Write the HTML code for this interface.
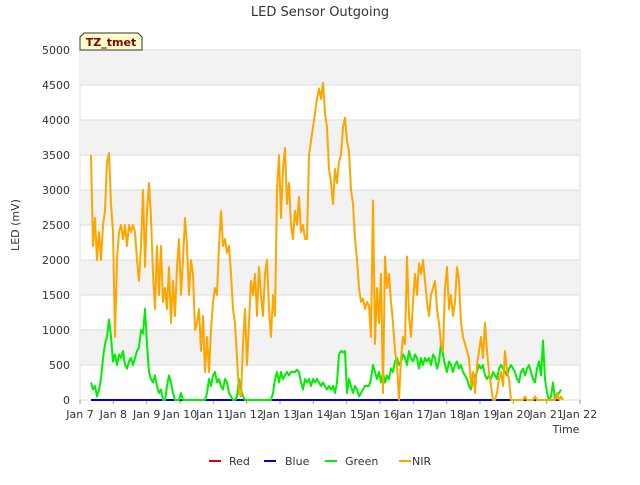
<!DOCTYPE html>
<html><head><meta charset="utf-8"><style>
body{margin:0;background:#fff;font-family:"Liberation Sans","DejaVu Sans",sans-serif;}
svg text{font-family:"DejaVu Sans","Liberation Sans",sans-serif;}
</style></head><body>
<svg id="chart" width="640" height="480" xmlns="http://www.w3.org/2000/svg">
<rect width="640" height="480" fill="#fff"/>
<text x="320" y="16" text-anchor="middle" font-size="13" fill="#333">LED Sensor Outgoing</text>
<text transform="translate(19,225) rotate(-90)" text-anchor="middle" font-size="11" fill="#333">LED (mV)</text>
<text x="566" y="433" text-anchor="middle" font-size="11" fill="#333">Time</text>
<g id="bands"></g><g id="grid"></g><g id="ticks"></g><g id="series"></g>
<g>
<path d="M80,50 L80,37 L84,33 L138,33 L142,37 L142,50 Z" fill="#ffffcc" stroke="#333" stroke-width="1"/>
<text x="111" y="46" text-anchor="middle" font-size="11" font-weight="bold" fill="#8b0000">TZ_tmet</text>
</g>
<g>
<g><line x1="209" y1="461" x2="221" y2="461" stroke="#dd0000" stroke-width="2"/><text x="229" y="465" font-size="11" fill="#333">Red</text></g>
<g><line x1="264" y1="461" x2="276" y2="461" stroke="#0000dd" stroke-width="2"/><text x="285" y="465" font-size="11" fill="#333">Blue</text></g>
<g><line x1="325" y1="461" x2="337" y2="461" stroke="#00ee00" stroke-width="2"/><text x="345" y="465" font-size="11" fill="#333">Green</text></g>
<g><line x1="399" y1="461" x2="411" y2="461" stroke="#ffa500" stroke-width="2"/><text x="412" y="465" font-size="11" fill="#333">NIR</text></g>
</g>
</svg>
<script>
const xTickLabels=["Jan 7","Jan 8","Jan 9","Jan 10","Jan 11","Jan 12","Jan 13","Jan 14","Jan 15","Jan 16","Jan 17","Jan 18","Jan 19","Jan 20","Jan 21","Jan 22"];
const yTicks=[0,500,1000,1500,2000,2500,3000,3500,4000,4500,5000];
const startDay=7.33;
const sampleStep=0.06;
const nirValues=[3500,2200,2600,2000,2400,2000,2500,2700,3400,3530,2800,2400,900,2000,2400,2500,2300,2500,2200,2500,2400,2500,2400,2000,1700,2200,3000,1900,2700,3100,2600,1800,1300,2200,1500,2200,1400,1600,1300,1900,1100,1700,1200,1900,2300,1500,2000,2600,2200,1500,2000,1800,1000,1100,1300,700,1200,400,900,400,1000,1400,1600,1500,2200,2700,2200,2300,2100,2200,1800,1300,1100,600,100,50,800,1300,500,1100,1700,1500,1800,1200,1900,1500,1200,1800,2000,1300,900,1500,1200,3000,3500,2600,3300,3600,2800,3100,2500,2300,2700,2500,2900,2400,2500,2300,2300,3500,3700,3900,4100,4300,4450,4300,4530,4100,3900,3300,3100,2800,3300,3100,3400,3500,3900,4030,3700,3550,3000,2800,2300,2000,1600,1400,1450,1300,1400,1350,900,2850,800,1600,1100,1800,100,2050,1600,1800,1400,1100,700,500,0,600,900,800,2050,1200,900,1400,1800,1500,1950,1800,2000,1700,1400,1200,1500,1600,1700,1300,1100,800,700,1600,1900,1300,1500,1200,1400,1900,1700,1100,900,800,700,600,200,400,100,500,700,900,600,1100,700,400,200,0,0,100,300,400,200,700,400,300,0,0,0,0,0,0,0,50,0,0,0,0,50,0,0,0,0,0,0,0,0,0,0,100,0,50,0];
const greenValues=[250,150,200,50,150,300,600,800,900,1150,900,550,650,500,650,600,700,500,450,550,600,500,600,700,750,1000,950,1300,800,400,300,250,350,200,100,150,0,0,200,350,250,100,0,0,0,100,0,0,0,0,0,0,0,0,0,0,0,0,100,300,200,350,400,250,300,200,150,300,250,100,50,0,0,50,300,150,50,0,0,0,0,0,0,0,0,0,0,0,0,0,0,100,300,400,250,400,300,350,400,350,400,400,400,430,400,250,150,300,250,300,200,300,250,300,250,200,250,200,150,200,150,200,100,250,650,700,680,700,100,300,200,100,200,150,50,100,150,200,200,200,300,500,400,300,400,250,400,250,350,300,450,400,550,600,500,550,650,600,500,700,600,550,650,600,450,600,500,600,550,600,500,650,600,450,550,800,650,500,400,550,500,400,500,550,450,500,400,350,300,200,150,300,350,400,500,450,500,350,300,350,300,400,350,300,450,500,450,400,350,450,500,450,400,300,250,400,450,350,450,500,400,300,250,450,550,350,850,300,100,0,50,250,0,50,100,150];
const redValues=[0,0];
const blueValues=[0,0];
const redBlueDays=[7.33,21.4];

const X0=80,X1=580,Y0=400,Y1=50,D0=7,D1=22,VMAX=5000;
const xs=d=>X0+(d-D0)*(X1-X0)/(D1-D0);
const ys=v=>Y0-v*(Y0-Y1)/VMAX;
const NS="http://www.w3.org/2000/svg";
function mk(tag,attrs,parent){const e=document.createElementNS(NS,tag);for(const k in attrs)e.setAttribute(k,attrs[k]);parent.appendChild(e);return e;}
const bands=document.getElementById('bands'),grid=document.getElementById('grid'),ticks=document.getElementById('ticks'),series=document.getElementById('series');
const bg=mk('rect',{x:X0,y:Y1,width:X1-X0,height:Y0-Y1,fill:'#fff',stroke:'#dddddd'},bands);


for(let i=0;i<yTicks.length-1;i++){
  if(i%2===1){const b=mk('rect',{x:X0,y:ys(yTicks[i+1]),width:X1-X0,height:ys(yTicks[i])-ys(yTicks[i+1]),fill:'#f2f2f2'},bands);
  
  }
}
yTicks.forEach(v=>{
  const l=mk('line',{x1:X0,x2:X1,y1:ys(v),y2:ys(v),stroke:'#dcdcdc','stroke-width':1},grid);
  
  
  const t=mk('text',{x:X0-10,y:ys(v)+4,'text-anchor':'end','font-size':11,fill:'#333'},ticks);t.textContent=v;
  
  
});
xTickLabels.forEach((s,i)=>{
  const x=xs(D0+i);
  const l=mk('line',{x1:x,x2:x,y1:Y0,y2:Y0+4,stroke:'#999'},ticks);
  
  
  const t=mk('text',{x:x,y:Y0+18,'text-anchor':'middle','font-size':11,fill:'#333'},ticks);t.textContent=s;
  
  
});
function line(days,vals,color,name){
  const pts=vals.map((v,i)=>xs(days[i]).toFixed(1)+','+ys(v).toFixed(1)).join(' ');
  const p=mk('polyline',{points:pts,fill:'none',stroke:color,'stroke-width':2,'stroke-linejoin':'round'},series);
  
  
}
const gridDays=n=>Array.from({length:n},(_,i)=>startDay+i*sampleStep);
line(redBlueDays,redValues,'#dd0000','red-series');
line(redBlueDays,blueValues,'#0000dd','blue-series');
line(gridDays(greenValues.length),greenValues,'#00ee00','green-series');
line(gridDays(nirValues.length),nirValues,'#ffa500','nir-series');
</script>
</body></html>
